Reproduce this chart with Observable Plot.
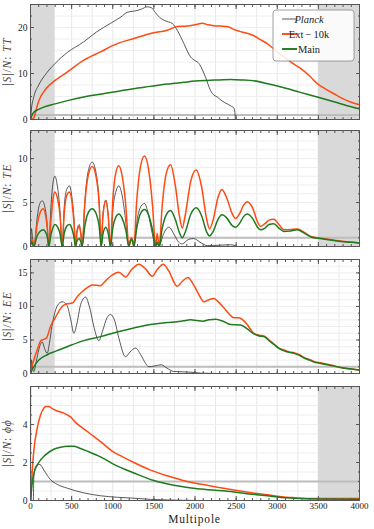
<!DOCTYPE html>
<html><head><meta charset="utf-8">
<script src="https://cdn.jsdelivr.net/npm/d3@7"></script>
<script src="https://cdn.jsdelivr.net/npm/@observablehq/plot@0.6"></script>
<style>
body{margin:0;background:#fff;}
#c svg{display:block;}
</style></head><body><div id="c"></div>
<script>
// ---- data (multipole, |S|/N) ----
const xTickLabels = [0,500,1000,1500,2000,2500,3000,3500,4000];
const seriesNames = ["Planck","Ext\u2009\u2212\u200910k","Main"];

const ttPlanck = [[2,0],[10,2.0],[40,4.9],[100,7.5],[200,10.2],[300,12.2],[450,14.6],[648,16.9],[800,19.0],[973,20.9],[1100,22.3],[1176,23.3],[1297,23.7],[1350,24.0],[1419,24.5],[1470,24.3],[1520,23.2],[1570,22.2],[1621,21.6],[1680,21.2],[1723,20.9],[1784,19.4],[1865,16.5],[1946,13.6],[2000,12.8],[2047,12.2],[2090,10.8],[2128,9.2],[2189,6.3],[2230,5.3],[2270,4.9],[2330,4.0],[2392,3.4],[2440,2.9],[2473,2.5],[2485,1.5],[2490,0]];
const ttExt = [[0,0],[40,0.3],[60,1.5],[90,3.5],[122,4.9],[160,6.0],[203,7.0],[300,8.5],[446,10.3],[648,12.9],[851,14.7],[1054,16.5],[1257,17.6],[1459,18.7],[1662,19.4],[1784,20.2],[1905,20.3],[2000,20.6],[2088,20.9],[2160,20.6],[2230,20.4],[2310,20.3],[2392,20.2],[2470,19.6],[2554,19.1],[2640,18.7],[2716,18.2],[2800,17.3],[2878,16.5],[2980,15.0],[3081,13.6],[3180,12.3],[3284,11.1],[3390,9.5],[3486,7.8],[3590,6.6],[3689,5.6],[3790,4.6],[3892,3.8],[4000,3.2]];
const ttMain = [[0,0],[20,1.0],[40,1.6],[100,2.2],[162,2.7],[300,3.4],[450,4.1],[648,4.9],[850,5.5],[1054,6.1],[1250,6.7],[1459,7.2],[1660,7.7],[1865,8.1],[2000,8.35],[2149,8.5],[2300,8.6],[2432,8.7],[2570,8.6],[2716,8.4],[2900,7.7],[3081,6.9],[3280,5.9],[3486,4.9],[3700,3.8],[3850,3.0],[4000,2.3]];

const tePlanck = [[2,0.5],[12,2.0],[25,1.0],[45,0],[80,3.2],[110,4.8],[142,5.2],[175,4.5],[200,2.8],[223,0],[245,4.0],[270,7.0],[296,8.0],[325,7.0],[355,4.5],[385,0],[410,4.5],[440,6.5],[474,6.9],[505,5.5],[530,3.0],[547,0],[565,1.8],[592,2.5],[612,1.5],[628,0],[660,5.0],[700,8.5],[750,9.6],[800,8.2],[835,5.0],[860,0],[880,3.5],[916,5.3],[945,3.5],[973,0],[1000,4.0],[1040,6.3],[1074,6.9],[1110,6.0],[1150,3.5],[1196,0],[1215,0.8],[1228,1.0],[1245,0.6],[1257,0],[1300,3.2],[1345,4.6],[1386,4.9],[1430,3.8],[1480,1.5],[1520,0],[1540,0.5],[1560,0],[1620,1.5],[1683,2.2],[1750,1.3],[1800,0.5],[1845,0.3],[1920,0.8],[1986,0.9],[2060,0.5],[2149,0.1],[2300,0.15],[2432,0.2],[2490,0.1]];
const teExt = [[2,0.3],[15,0.8],[40,0],[80,2.5],[115,3.8],[154,4.3],[185,3.5],[205,2.0],[223,0],[250,3.2],[275,5.5],[296,6.2],[330,5.4],[360,3.5],[385,0],[410,3.8],[440,5.8],[474,6.2],[505,5.0],[530,2.5],[547,0],[565,1.6],[592,2.3],[612,1.4],[628,0],[660,4.8],[700,8.0],[750,9.1],[800,7.8],[835,4.8],[860,0],[880,3.4],[916,5.2],[945,3.5],[973,0],[1000,5.2],[1035,8.3],[1074,9.2],[1115,8.0],[1160,4.5],[1196,0],[1215,0.7],[1228,0.9],[1245,0.5],[1257,0],[1290,5.0],[1335,9.0],[1386,10.3],[1435,8.8],[1485,4.5],[1520,0],[1540,1.5],[1565,0],[1600,4.5],[1650,8.3],[1703,9.3],[1760,7.0],[1810,3.5],[1845,2.1],[1880,3.5],[1950,7.5],[2015,8.7],[2080,6.8],[2140,3.2],[2177,2.0],[2220,3.0],[2280,5.6],[2327,6.5],[2390,5.4],[2450,3.8],[2493,3.2],[2540,3.7],[2590,4.7],[2635,5.1],[2700,4.4],[2760,2.8],[2797,2.3],[2850,2.6],[2900,3.0],[2959,3.1],[3020,2.5],[3081,1.9],[3150,1.9],[3243,2.0],[3330,1.6],[3420,1.1],[3486,1.0],[3600,0.85],[3750,0.65],[3900,0.5],[4000,0.4]];
const teMain = [[2,0.2],[15,0.5],[40,0],[80,1.2],[115,1.7],[154,1.9],[190,1.5],[210,0.8],[223,0],[250,1.4],[275,2.2],[296,2.5],[330,2.2],[360,1.4],[385,0],[410,1.5],[440,2.3],[474,2.5],[505,2.0],[530,1.0],[547,0],[565,0.6],[592,0.9],[612,0.5],[628,0],[660,2.3],[700,3.8],[750,4.3],[800,3.7],[835,2.3],[860,0],[880,1.4],[916,2.2],[945,1.5],[973,0],[1000,2.1],[1035,3.3],[1074,3.7],[1115,3.2],[1160,1.8],[1196,0],[1215,0.6],[1228,0.8],[1245,0.45],[1257,0],[1290,2.0],[1335,3.7],[1386,4.2],[1435,3.6],[1485,1.8],[1520,0],[1540,0.5],[1565,0],[1600,2.0],[1650,3.6],[1703,4.1],[1760,3.1],[1810,1.6],[1845,1.0],[1880,1.6],[1950,3.7],[2015,4.4],[2080,3.5],[2140,1.7],[2177,1.2],[2220,1.7],[2280,3.1],[2327,3.6],[2390,3.2],[2450,2.4],[2493,2.2],[2540,2.6],[2590,3.4],[2635,3.7],[2700,3.2],[2760,2.2],[2797,1.9],[2850,2.1],[2900,2.5],[2959,2.6],[3020,2.1],[3081,1.7],[3150,1.75],[3243,1.9],[3330,1.5],[3420,1.05],[3486,0.95],[3600,0.8],[3750,0.6],[3900,0.47],[4000,0.4]];

const eePlanck = [[2,0],[8,1.5],[12,2.0],[20,1.2],[40,0.3],[70,1.8],[100,3.5],[142,4.7],[175,3.6],[203,3.0],[230,4.5],[260,7.0],[284,8.5],[330,10.2],[385,10.7],[446,10.1],[490,8.0],[527,6.0],[560,7.2],[610,10.3],[669,11.4],[720,9.8],[770,7.0],[831,4.9],[880,6.5],[930,8.3],[973,8.8],[1020,8.0],[1080,5.0],[1155,2.5],[1210,3.2],[1277,3.8],[1340,2.8],[1400,1.5],[1439,1.0],[1500,1.1],[1589,1.3],[1660,0.8],[1743,0.3],[1850,0.25],[1946,0.2],[2068,0.05],[2300,0.0],[2473,0.0]];
const eeExt = [[0,0],[20,1.2],[40,2.0],[81,3.5],[120,4.8],[142,5.0],[195,5.3],[243,7.0],[300,8.3],[385,10.0],[446,10.4],[507,10.5],[570,11.5],[628,12.2],[690,12.8],[750,13.2],[851,13.1],[910,13.8],[973,14.5],[1074,15.1],[1155,14.4],[1230,15.5],[1317,16.3],[1400,15.6],[1480,14.5],[1540,15.5],[1614,16.3],[1680,15.3],[1784,13.0],[1850,13.8],[1913,14.3],[1980,13.3],[2050,11.7],[2108,10.7],[2170,11.0],[2230,11.2],[2290,10.6],[2351,9.8],[2420,8.8],[2473,8.3],[2534,8.3],[2580,8.0],[2635,7.3],[2680,6.5],[2716,6.0],[2780,5.7],[2838,5.6],[2900,5.0],[2959,4.4],[3020,3.8],[3081,3.5],[3150,3.2],[3203,3.1],[3270,2.8],[3324,2.4],[3390,2.1],[3446,1.8],[3530,1.6],[3608,1.4],[3690,1.15],[3770,0.9],[3880,0.7],[4000,0.5]];
const eeMain = [[0,0],[20,0.6],[40,1.0],[101,2.0],[203,2.8],[300,3.3],[446,4.0],[648,4.9],[851,5.5],[1054,6.2],[1257,6.8],[1459,7.3],[1662,7.6],[1784,7.7],[1860,7.85],[1946,8.0],[2020,7.9],[2088,7.8],[2170,8.0],[2250,8.1],[2340,7.8],[2432,7.3],[2554,7.25],[2640,6.6],[2716,5.9],[2780,5.6],[2838,5.5],[2900,4.9],[2959,4.35],[3020,3.75],[3081,3.4],[3150,3.15],[3203,3.0],[3270,2.7],[3324,2.3],[3390,2.0],[3446,1.7],[3530,1.5],[3608,1.3],[3690,1.1],[3770,0.9],[3880,0.7],[4000,0.5]];

const ppPlanck = [[35,0],[38,0.8],[45,1.5],[73,1.85],[114,1.9],[162,1.6],[243,1.1],[324,0.85],[446,0.65],[648,0.4],[851,0.25],[1054,0.17],[1257,0.12],[1459,0.06],[1662,0.03],[2068,0.0]];
const ppExt = [[2,0],[20,1.5],[40,2.6],[81,3.8],[122,4.5],[160,4.85],[182,4.95],[223,4.95],[260,4.85],[304,4.75],[405,4.6],[486,4.4],[550,4.1],[608,3.9],[730,3.5],[851,3.1],[993,2.6],[1120,2.3],[1257,2.0],[1459,1.6],[1662,1.3],[1905,1.0],[2149,0.8],[2473,0.55],[2700,0.4],[2878,0.3],[3050,0.2],[3203,0.15],[3486,0.1],[4000,0.1]];
const ppMain = [[2,0],[20,0.9],[40,1.4],[101,2.0],[182,2.4],[284,2.7],[380,2.82],[446,2.85],[527,2.85],[600,2.75],[689,2.6],[851,2.3],[1013,1.9],[1257,1.45],[1500,1.05],[1743,0.8],[2068,0.6],[2473,0.45],[2700,0.33],[2878,0.25],[3050,0.16],[3203,0.12],[3486,0.08],[4000,0.07]];

// excluded multipole ranges per panel
const bandsTT = [[0,300],[3500,4000]];
const bandsTE = [[0,300],[3500,4000]];
const bandsEE = [[0,300]];
const bandsPP = [[0,20],[3500,4000]];

const colors = {planck:"#2e2e2e", ext:"#ff4a12", main:"#1e7a1e"};
const serif = "'Liberation Serif', 'Times New Roman', serif";

function panel({planck, ext, main, bands, yMax, yTicks, yMinor, label, height, mt, mb, showX}) {
  const xMinor = d3.range(0, 4001, 100);
  const xGrid = d3.range(0, 4001, 250);
  const svg = Plot.plot({
    width: 374, height, marginLeft: 30, marginRight: 15, marginTop: mt, marginBottom: mb,
    style: {fontFamily: serif, fontSize: "9px", color: "#333", background: "white", overflow: "visible"},
    x: {domain: [0, 4000]},
    y: {domain: [0, yMax]},
    marks: [
      Plot.gridX(xGrid, {stroke: "#e8e8e8", strokeOpacity: 1}),
      Plot.gridY(yMinor, {stroke: "#eeeeee", strokeOpacity: 1}),
      Plot.rect(bands, {x1: d => d[0], x2: d => d[1], fill: "#d9d9d9"}),
      Plot.ruleY([1], {stroke: "#bdbdbd", strokeWidth: 2}),
      Plot.line(planck, {x: d => d[0], y: d => d[1], stroke: colors.planck, strokeWidth: 0.8, curve: "monotone-x", clip: true}),
      Plot.line(ext, {x: d => d[0], y: d => d[1], stroke: colors.ext, strokeWidth: 1.5, curve: "monotone-x", clip: true}),
      Plot.line(main, {x: d => d[0], y: d => d[1], stroke: colors.main, strokeWidth: 1.5, curve: "monotone-x", clip: true}),
      Plot.frame({stroke: "#555"}),
      Plot.axisX(xTickLabels, {anchor: "bottom", tickSize: -4, stroke: "#555", tickFormat: showX ? (d => String(d)) : (() => ""), tickPadding: 6, label: null, fontSize: 9, fill: "#222"}),
      Plot.axisX(xMinor, {anchor: "bottom", tickSize: -2, stroke: "#555", tickFormat: () => "", label: null}),
      Plot.axisX(xTickLabels, {anchor: "top", tickSize: -4, stroke: "#555", tickFormat: () => "", label: null}),
      Plot.axisX(xMinor, {anchor: "top", tickSize: -2, stroke: "#555", tickFormat: () => "", label: null}),
      Plot.axisY(yTicks, {anchor: "left", tickSize: -4, stroke: "#555", tickPadding: 7, label: null, fontSize: 9.5, fill: "#222"}),
      Plot.axisY(yMinor, {anchor: "left", tickSize: -2, stroke: "#555", tickFormat: () => "", label: null}),
      Plot.axisY(yTicks, {anchor: "right", tickSize: -4, stroke: "#555", tickFormat: () => "", label: null}),
      Plot.axisY(yMinor, {anchor: "right", tickSize: -2, stroke: "#555", tickFormat: () => "", label: null})
    ]
  });
  const s = d3.select(svg);
  const cy = mt + (height - mt - mb) / 2;
  const t = s.append("text")
    .attr("transform", `translate(11,${cy}) rotate(-90)`)
    .attr("text-anchor", "middle")
    .attr("font-family", serif).attr("font-size", 11.5).attr("fill", "#444")
    .attr("letter-spacing", 0.9);
  t.append("tspan").text("|");
  t.append("tspan").attr("font-style", "italic").text("S");
  t.append("tspan").text("|/");
  t.append("tspan").attr("font-style", "italic").text("N");
  t.append("tspan").text(": ");
  t.append("tspan").attr("font-style", "italic").text(label);
  return svg;
}

const c = document.getElementById("c");
const p1 = panel({planck: ttPlanck, ext: ttExt, main: ttMain, bands: bandsTT, yMax: 25, yTicks: [0,10,20], yMinor: d3.range(0, 25.1, 2.5), label: "TT", height: 125, mt: 4, mb: 6, showX: false});
const p2 = panel({planck: tePlanck, ext: teExt, main: teMain, bands: bandsTE, yMax: 13.2, yTicks: [0,5,10], yMinor: d3.range(0, 13.2, 1), label: "TE", height: 127, mt: 5, mb: 6, showX: false});
const p3 = panel({planck: eePlanck, ext: eeExt, main: eeMain, bands: bandsEE, yMax: 17, yTicks: [0,5,10,15], yMinor: d3.range(0, 17.1, 1), label: "EE", height: 128, mt: 7, mb: 7, showX: false});
const p4 = panel({planck: ppPlanck, ext: ppExt, main: ppMain, bands: bandsPP, yMax: 6, yTicks: [0,2,4], yMinor: d3.range(0, 6.1, 0.5), label: "\u03d5\u03d5", height: 149, mt: 6, mb: 29, showX: true});

// x label
d3.select(p4).append("text").attr("x", 30 + 329/2).attr("y", 142.5).attr("text-anchor", "middle")
  .attr("font-family", serif).attr("font-size", 11.5).attr("letter-spacing", 0.8).attr("fill", "#222").text("Multipole");

// legend in first panel
const lg = d3.select(p1).append("g");
lg.append("rect").attr("x", 273).attr("y", 10).attr("width", 81).attr("height", 51).attr("rx", 3)
  .attr("fill", "white").attr("fill-opacity", 0.85).attr("stroke", "#888").attr("stroke-width", 0.8);
const entries = [[seriesNames[0], colors.planck, 0.8, true], [seriesNames[1], colors.ext, 1.5, false], [seriesNames[2], colors.main, 1.5, false]];
entries.forEach(([name, col, w, it], i) => {
  const y = 19 + i * 15;
  lg.append("line").attr("x1", 282).attr("x2", 297).attr("y1", y).attr("y2", y).attr("stroke", i === 0 ? "#777" : col).attr("stroke-width", w + 0.4);
  lg.append("text").attr("x", 309).attr("y", y).attr("dy", "0.35em").attr("font-family", serif).attr("font-size", 10.5)
    .attr("font-style", it ? "italic" : null).attr("fill", "#222").text(name);
});

[p1, p2, p3, p4].forEach(p => c.appendChild(p));
</script></body></html>
